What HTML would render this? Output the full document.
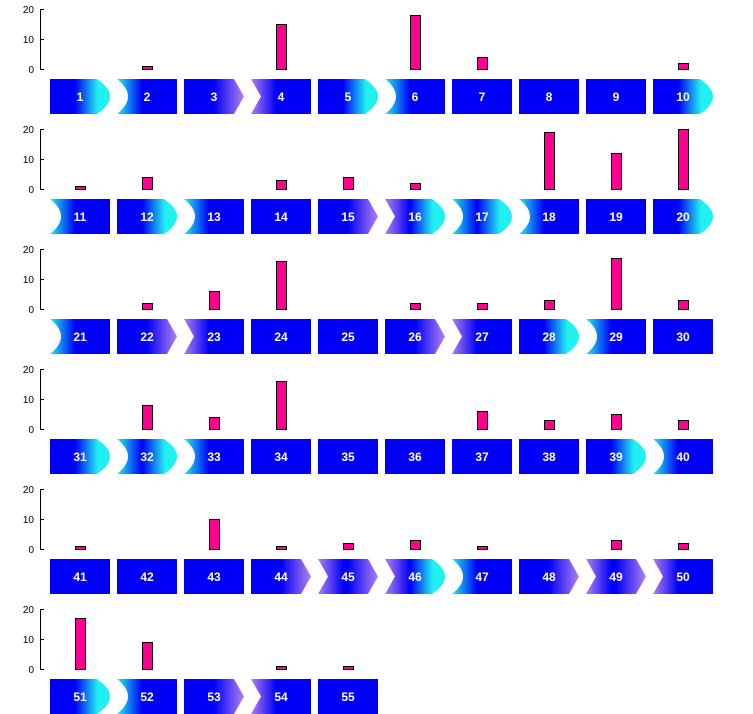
<!DOCTYPE html>
<html><head><style>body{margin:0;background:#fff}svg{display:block}</style></head><body>
<svg id="s" width="753" height="714" xmlns="http://www.w3.org/2000/svg" font-family="Liberation Sans, sans-serif">
<defs id="d"></defs>
<g id="g"></g>
<g fill="#fff" font-size="12" font-weight="bold" text-anchor="middle">
<text x="80" y="101">1</text><text x="147" y="101">2</text><text x="214" y="101">3</text><text x="281" y="101">4</text><text x="348" y="101">5</text><text x="415" y="101">6</text><text x="482" y="101">7</text><text x="549" y="101">8</text><text x="616" y="101">9</text><text x="683" y="101">10</text>
<text x="80" y="221">11</text><text x="147" y="221">12</text><text x="214" y="221">13</text><text x="281" y="221">14</text><text x="348" y="221">15</text><text x="415" y="221">16</text><text x="482" y="221">17</text><text x="549" y="221">18</text><text x="616" y="221">19</text><text x="683" y="221">20</text>
<text x="80" y="341">21</text><text x="147" y="341">22</text><text x="214" y="341">23</text><text x="281" y="341">24</text><text x="348" y="341">25</text><text x="415" y="341">26</text><text x="482" y="341">27</text><text x="549" y="341">28</text><text x="616" y="341">29</text><text x="683" y="341">30</text>
<text x="80" y="461">31</text><text x="147" y="461">32</text><text x="214" y="461">33</text><text x="281" y="461">34</text><text x="348" y="461">35</text><text x="415" y="461">36</text><text x="482" y="461">37</text><text x="549" y="461">38</text><text x="616" y="461">39</text><text x="683" y="461">40</text>
<text x="80" y="581">41</text><text x="147" y="581">42</text><text x="214" y="581">43</text><text x="281" y="581">44</text><text x="348" y="581">45</text><text x="415" y="581">46</text><text x="482" y="581">47</text><text x="549" y="581">48</text><text x="616" y="581">49</text><text x="683" y="581">50</text>
<text x="80" y="701">51</text><text x="147" y="701">52</text><text x="214" y="701">53</text><text x="281" y="701">54</text><text x="348" y="701">55</text>
</g>
<g fill="#000" font-size="10" text-anchor="end">
<text x="34" y="13">20</text><text x="34" y="43">10</text><text x="34" y="73">0</text>
<text x="34" y="133">20</text><text x="34" y="163">10</text><text x="34" y="193">0</text>
<text x="34" y="253">20</text><text x="34" y="283">10</text><text x="34" y="313">0</text>
<text x="34" y="373">20</text><text x="34" y="403">10</text><text x="34" y="433">0</text>
<text x="34" y="493">20</text><text x="34" y="523">10</text><text x="34" y="553">0</text>
<text x="34" y="613">20</text><text x="34" y="643">10</text><text x="34" y="673">0</text>
</g>
</svg>
<script>
var T="FV CF FA NF FV CF FF FF FF FV CF FV CF FF FA NV CV CF FF FV CF FA NF FF FF FA NF FV CF FF FV CV CF FF FF FF FF FF FV CF FF FF FF FA NA NV CF FA NA NF FV CF FA NF FF".split(" ");
var V=[0,1,0,15,0,18,4,0,0,2, 1,4,0,3,4,2,0,19,12,20, 0,2,6,16,0,2,2,3,17,3, 0,8,4,16,0,0,6,3,5,3, 1,0,10,1,2,3,1,0,3,2, 17,9,0,1,1];
var B="#0000f8",C="#20f0f0",P="#b080f0",ns="http://www.w3.org/2000/svg";
var d=document.getElementById("d"),g=document.getElementById("g"),h="";
var defs="";
["FV","CF","FA","NF","FF","NV","CV","NA"].forEach(function(k){
 var s=[];
 if(k[0]=="C")s.push([0,C],[0.42,B]);else if(k[0]=="N")s.push([0,P],[0.42,B]);else s.push([0,B]);
 if(k[1]=="V")s.push([0.42,B],[0.8,C],[1,C]);else if(k[1]=="A")s.push([0.5,B],[1,P]);else s.push([1,B]);
 defs+='<linearGradient id="g'+k+'" x1="0" x2="1" y1="0" y2="0">'+s.map(function(a){return '<stop offset="'+a[0]+'" stop-color="'+a[1]+'"/>'}).join("")+'</linearGradient>';
});
d.innerHTML=defs;
for(var r=0;r<6;r++){
 var by=70+120*r;
 h+='<line x1="40.5" y1="'+(by-61)+'" x2="40.5" y2="'+by+'" stroke="#000"/>';
 for(var t=0;t<3;t++)h+='<line x1="40" y1="'+(by-0.5-30*t)+'" x2="44" y2="'+(by-0.5-30*t)+'" stroke="#000"/>';
}
for(var i=0;i<55;i++){
 var c=i%10,r=Math.floor(i/10),x=50+67*c,y=79+120*r,w=60,hh=35,k=T[i];
 var p="M"+x+","+y;
 if(k[1]=="V")p+=" L"+(x+47)+","+y+" Q"+(x+73)+","+(y+hh/2)+" "+(x+47)+","+(y+hh);
 else if(k[1]=="A")p+=" L"+(x+50)+","+y+" L"+(x+60)+","+(y+hh/2)+" L"+(x+50)+","+(y+hh);
 else p+=" L"+(x+w)+","+y+" L"+(x+w)+","+(y+hh);
 p+=" L"+x+","+(y+hh);
 if(k[0]=="C")p+=" Q"+(x+22)+","+(y+hh/2)+" "+x+","+y;
 else if(k[0]=="N")p+=" L"+(x+10)+","+(y+hh/2)+" Z";
 p+="Z";
 h+='<path d="'+p+'" fill="url(#g'+k+')"/>';
 if(V[i]){var bh=V[i]*3,bx=x+25;h+='<rect x="'+(bx+0.5)+'" y="'+(y-9.5-bh+0)+'" width="10" height="'+bh+'" fill="#ff0090" stroke="#000"/>';}
}
g.innerHTML=h;
</script>
</body></html>
